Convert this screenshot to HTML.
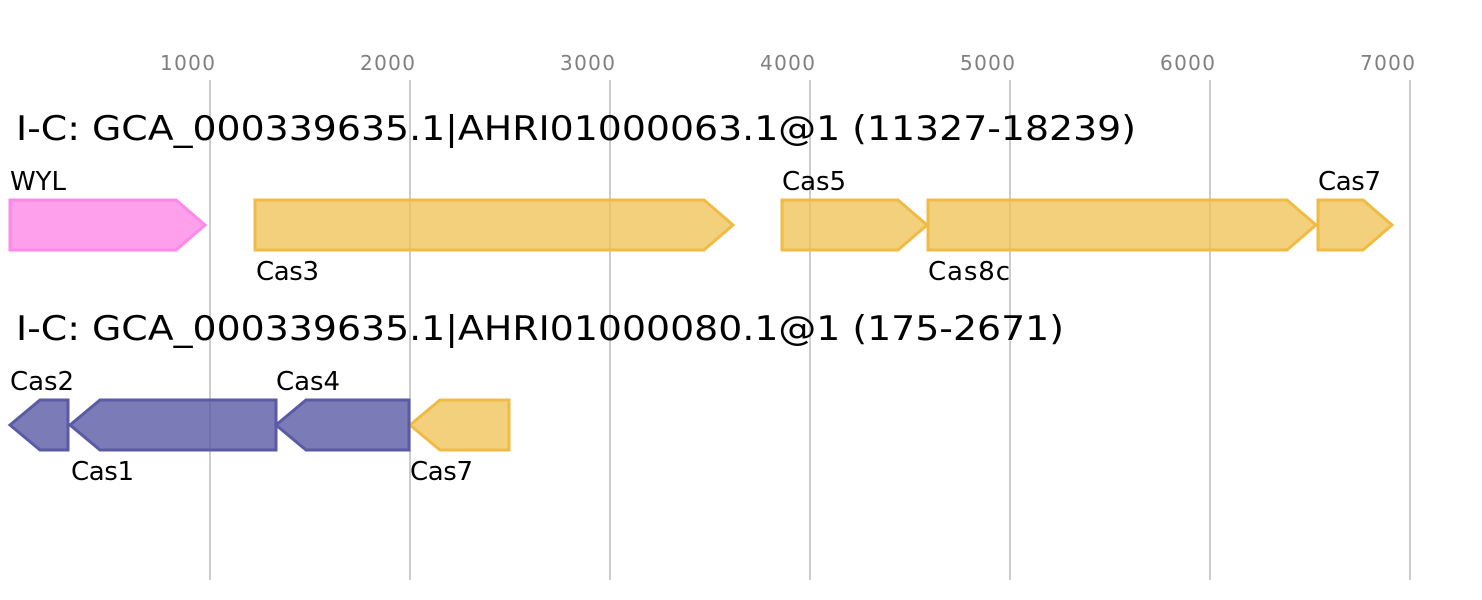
<!DOCTYPE html>
<html><head><meta charset="utf-8"><style>
html,body{margin:0;padding:0;background:#fff;}
svg{display:block;font-family:"DejaVu Sans","Liberation Sans",sans-serif;}
</style></head><body>
<svg width="1482" height="600" viewBox="0 0 1482 600" xmlns="http://www.w3.org/2000/svg">
<g stroke="#bbbbbb" stroke-width="1.5">
<line x1="210" y1="80" x2="210" y2="580"/><line x1="410" y1="80" x2="410" y2="580"/>
<line x1="610" y1="80" x2="610" y2="580"/><line x1="810" y1="80" x2="810" y2="580"/>
<line x1="1010" y1="80" x2="1010" y2="580"/><line x1="1210" y1="80" x2="1210" y2="580"/>
<line x1="1410" y1="80" x2="1410" y2="580"/>
</g>
<g fill="#808080" font-size="20">
<text x="160" y="70" textLength="55">1000</text><text x="360" y="70" textLength="55">2000</text><text x="560" y="70" textLength="55">3000</text>
<text x="760" y="70" textLength="55">4000</text><text x="960" y="70" textLength="55">5000</text><text x="1160" y="70" textLength="55">6000</text>
<text x="1360" y="70" textLength="55">7000</text>
</g>
<text x="16" y="140" font-size="34" textLength="1120" lengthAdjust="spacingAndGlyphs">I-C: GCA_000339635.1|AHRI01000063.1@1 (11327-18239)</text>
<text x="16" y="340" font-size="34" textLength="1048" lengthAdjust="spacingAndGlyphs">I-C: GCA_000339635.1|AHRI01000080.1@1 (175-2671)</text>
<g stroke-width="3" stroke-linejoin="miter">
<polygon points="10,200 176,200 205,225 176,250 10,250" fill="#ff88e8" fill-opacity="0.8" stroke="#ff88e8"/>
<g fill="#efc050" fill-opacity="0.75" stroke="#efbb45">
<polygon points="255,200 704,200 733,225 704,250 255,250"/>
<polygon points="782,200 898,200 927,225 898,250 782,250"/>
<polygon points="928,200 1287,200 1316,225 1287,250 928,250"/>
<polygon points="1318,200 1363,200 1392,225 1363,250 1318,250"/>
<polygon points="410,425 440,400 509,400 509,450 440,450"/>
</g>
<g fill="#5a5aa5" fill-opacity="0.8" stroke="#5a5aa5">
<polygon points="10,425 40,400 68,400 68,450 40,450"/>
<polygon points="70,425 100,400 276,400 276,450 100,450"/>
<polygon points="276,425 306,400 409,400 409,450 306,450"/>
</g>
</g>
<g font-size="26" fill="#000">
<text x="10" y="190" textLength="56">WYL</text>
<text x="256" y="280" textLength="63">Cas3</text>
<text x="782" y="190" textLength="64">Cas5</text>
<text x="928" y="280" textLength="82">Cas8c</text>
<text x="1318" y="190" textLength="63">Cas7</text>
<text x="10" y="390" textLength="64">Cas2</text>
<text x="71" y="480" textLength="63">Cas1</text>
<text x="276" y="390" textLength="64">Cas4</text>
<text x="410" y="480" textLength="63">Cas7</text>
</g>
</svg>
</body></html>
